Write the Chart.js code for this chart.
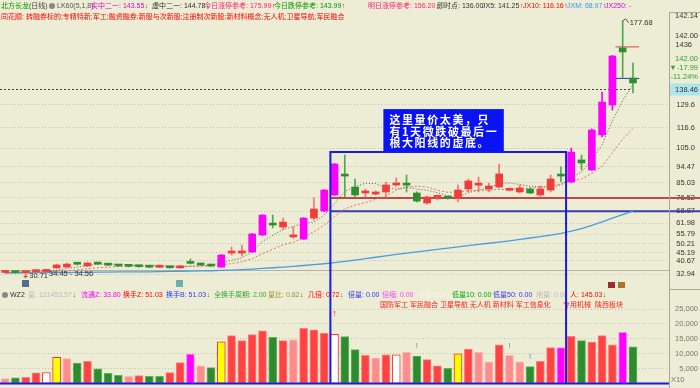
<!DOCTYPE html>
<html>
<head>
<meta charset="utf-8">
<script src="https://cdn.jsdelivr.net/npm/chart.js@4.4.0/dist/chart.umd.min.js"></script>
<style>
  html, body { margin: 0; padding: 0; background: #EDECD4; }
  #wrap { position: relative; width: 700px; height: 388px; overflow: hidden; }
  #priceChart { position: absolute; left: 0; top: 0; }
  #volChart { position: absolute; left: 0; top: 288px; }
</style>
</head>
<body>
<div id="wrap">
  <canvas id="priceChart" width="700" height="288"></canvas>
  <canvas id="volChart" width="700" height="100"></canvas>
</div>
<script>
// ---- daily candles ----
const opens  = [33.9, 34.2, 33.8, 34.4, 34.5, 36.5, 37.0, 38.7, 37.6, 38.8,
                38.2, 37.7, 37.5, 37.3, 37.0, 36.9, 36.7, 36.5, 39.4, 38.3,
                37.7, 37.0, 45.0, 45.0, 45.6, 55.3, 61.2, 59.9, 54.2, 53.0,
                65.0, 69.0, 78.2, 89.3, 82.7, 79.3, 78.7, 79.9, 83.9, 84.1,
                79.3, 73.6, 76.8, 76.6, 76.5, 81.6, 83.8, 81.6, 82.7, 80.9,
                79.9, 81.6, 78.2, 81.0, 89.2, 85.6, 98.2, 92.5, 112.5, 129.6,
                162.2, 145.0];
const highs  = [34.5, 34.6, 34.56, 35.0, 35.2, 38.6, 39.2, 39.2, 39.8, 39.2,
                38.6, 38.0, 37.8, 37.6, 37.3, 37.3, 37.0, 37.8, 41.6, 38.7,
                38.0, 44.2, 48.5, 49.6, 56.2, 67.0, 66.7, 65.0, 59.9, 65.3,
                76.5, 81.3, 96.2, 101.0, 87.3, 81.6, 80.5, 85.6, 87.9, 89.6,
                80.0, 77.5, 78.2, 77.0, 83.9, 87.3, 88.4, 85.0, 95.9, 81.6,
                83.9, 82.2, 83.3, 89.6, 94.2, 105.0, 101.0, 116.0, 137.0, 158.0,
                177.68, 153.6];
const lows   = [33.4, 33.6, 30.71, 33.9, 34.0, 36.2, 36.8, 38.2, 37.3, 38.3,
                37.8, 37.3, 37.1, 36.9, 36.6, 36.6, 36.3, 36.3, 38.8, 37.9,
                37.4, 36.8, 43.9, 43.3, 45.3, 55.0, 59.4, 58.2, 53.6, 52.7,
                63.9, 68.7, 77.9, 77.0, 77.0, 77.0, 78.2, 77.0, 83.3, 79.9,
                74.2, 73.0, 75.3, 75.8, 74.2, 79.9, 79.9, 79.9, 82.2, 80.5,
                79.3, 79.0, 77.0, 79.9, 85.6, 85.3, 92.5, 92.2, 111.3, 126.7,
                145.0, 136.5];
const closes = [34.3, 33.8, 34.45, 34.6, 34.9, 38.2, 38.7, 38.6, 39.3, 38.7,
                38.1, 37.6, 37.4, 37.2, 36.9, 37.0, 36.6, 37.6, 39.1, 38.2,
                37.6, 43.9, 45.6, 46.2, 55.9, 66.7, 61.0, 62.7, 54.4, 65.0,
                70.2, 81.0, 95.9, 89.0, 78.2, 80.5, 79.9, 83.9, 85.0, 83.8,
                74.7, 77.0, 77.1, 76.4, 81.0, 86.2, 84.0, 83.3, 90.2, 81.1,
                82.2, 79.3, 81.6, 87.3, 89.0, 102.7, 96.5, 115.3, 131.3, 157.6,
                159.9, 142.2];

// ---- moving averages (JX5, JX10, JXM) ----
const ma5  = [34.2, 34.1, 34.2, 34.3, 34.4, 35.2, 36.2, 37.0, 37.9, 38.7,
              38.7, 38.5, 38.2, 37.8, 37.4, 37.2, 37.0, 37.1, 37.4, 37.7,
              37.8, 39.3, 40.9, 42.3, 45.8, 51.7, 55.1, 58.5, 60.2, 62.0,
              62.7, 66.7, 73.3, 80.2, 82.9, 84.9, 84.7, 82.3, 81.5, 82.6,
              81.5, 80.9, 79.5, 77.8, 77.2, 79.5, 80.9, 82.2, 84.9, 85.0,
              84.2, 83.2, 82.9, 82.3, 83.9, 88.0, 91.4, 98.2, 107.0, 120.7,
              132.1, 141.25];
const ma10 = [34.0, 34.0, 34.1, 34.1, 34.2, 34.5, 34.9, 35.4, 36.0, 36.6,
              36.9, 37.3, 37.6, 37.9, 38.1, 38.0, 37.7, 37.6, 37.6, 37.6,
              37.5, 38.2, 39.0, 39.9, 41.8, 44.7, 47.2, 49.7, 51.2, 53.9,
              57.2, 60.9, 65.9, 70.2, 72.4, 73.8, 75.7, 77.8, 80.9, 82.7,
              83.2, 82.8, 80.9, 79.7, 79.9, 80.5, 80.9, 80.9, 81.4, 81.1,
              81.9, 82.1, 82.5, 83.6, 84.4, 86.1, 87.3, 90.5, 94.6, 102.3,
              110.1, 116.16];
const ma60 = [33.6, 33.7, 33.7, 33.8, 33.8, 33.9, 33.9, 34.0, 34.0, 34.1,
              34.1, 34.2, 34.2, 34.3, 34.3, 34.4, 34.5, 34.6, 34.7, 34.8,
              34.9, 35.1, 35.3, 35.5, 35.8, 36.2, 36.6, 37.0, 37.4, 37.9,
              38.4, 38.9, 39.5, 40.2, 41.0, 41.8, 42.6, 43.4, 44.2, 45.0,
              45.7, 46.4, 47.1, 47.8, 48.5, 49.2, 49.9, 50.6, 51.3, 52.0,
              52.8, 53.6, 54.4, 55.3, 56.3, 57.5, 59.0, 60.8, 62.8, 65.0,
              67.0, 68.97];

// ---- volume (x10) ----
const volumes = [1680, 1870, 2100, 3600, 3700, 8770, 8330, 6830, 7480, 4900,
                 3390, 2740, 2420, 2640, 2420, 2420, 3700, 7040, 9840, 5970,
                 5320, 14030, 16060, 14450, 16400, 17700, 15540, 14450, 14680, 18550,
                 18010, 16940, 16500, 15750, 11350, 9420, 8550, 9620, 9620, 10480,
                 9190, 8000, 5970, 5100, 9940, 11550, 10480, 7260, 12970, 9420,
                 7260, 5650, 7480, 12100, 12100, 15870, 14450, 13930, 16060, 12970,
                 17160, 12320];
// r red, g green, p pale red, m magenta, y yellow, w white
const volKinds = ['p','g','r','r','w','y','p','g','r','g',
                  'g','g','p','r','g','g','r','r','m','p',
                  'g','y','r','r','r','r','g','r','p','r',
                  'r','r','w','g','g','r','p','r','w','p',
                  'g','r','r','g','y','r','p','p','r','p',
                  'p','g','r','r','m','r','g','r','r','r',
                  'm','g'];
const volFlags = [40, 49, 51];   // "!" markers
const volArrow = 32;             // red up arrow

// ---- axes ----
const priceTickVals = [129.6, 116.6, 105.0, 94.47, 85.03, 76.52, 68.87, 61.98, 55.79, 50.21, 45.19, 40.67, 32.94];
const priceTickText = ['129.6', '116.6', '105.0', '94.47', '85.03', '76.52', '68.87', '61.98', '55.79', '50.21', '45.19', '40.67', '32.94'];
const volTickVals = [5000, 10000, 15000, 20000, 25000];
const sessions = opens.map((_, i) => 'D' + (i + 1)).concat(['E1', 'E2', 'E3']);

// ---- reference levels ----
const lastPrice  = 138.46;
const floorPrice = 35.2;
const boxHigh    = 76.52;
const boxLow     = 68.87;
const capPrice   = 162.8;
const midPrice   = 144.78;
const boxSpan    = [31.6, 54.5];   // blue frame, in sessions
const boxTop     = 102.7;
const noteSpan   = [36.75, 48.45];

const RED = '#F23B3B', GREEN = '#2F8F2F', MAG = '#FF00FF';
const FONT = '"Liberation Sans", "Noto Sans CJK SC", sans-serif';
const NUMFONT = '"Liberation Sans", Arial, sans-serif';

function candleKind(i) {
  const prev = i ? closes[i - 1] : opens[i];
  if (closes[i] > opens[i] && closes[i] / prev > 1.1) return 'mag';
  return closes[i] >= opens[i] ? 'up' : 'down';
}
const bodyColors = closes.map((c, i) => ({ mag: MAG, up: RED, down: GREEN })[candleKind(i)]);
const wickColors = closes.map((c, i) => ({ mag: MAG, up: '#FF6F6F', down: '#4FA84F' })[candleKind(i)]);

function put(ctx, s, x, y, color, size, align, font) {
  ctx.font = size + 'px ' + (font || FONT);
  ctx.fillStyle = color;
  ctx.textAlign = align || 'left';
  ctx.textBaseline = 'middle';
  ctx.fillText(s, x, y);
  return x + ctx.measureText(s).width;
}
function seg(ctx, s, x, y, color, arrow) {
  const end = put(ctx, s, x, y, color, 7);
  if (arrow) put(ctx, arrow, end + 0.5, y, arrow === '↑' ? '#FF0000' : '#009900', 7);
}
function hline(ctx, y, x1, x2, color, width, dash) {
  ctx.save();
  ctx.strokeStyle = color;
  ctx.lineWidth = width;
  ctx.setLineDash(dash || []);
  ctx.beginPath();
  ctx.moveTo(x1, y);
  ctx.lineTo(x2, y);
  ctx.stroke();
  ctx.restore();
}
function vline(ctx, x, y1, y2, color, width) {
  ctx.save();
  ctx.strokeStyle = color;
  ctx.lineWidth = width;
  ctx.beginPath();
  ctx.moveTo(x, y1);
  ctx.lineTo(x, y2);
  ctx.stroke();
  ctx.restore();
}

// ---- price panel overlays ----
const priceOverlay = {
  id: 'priceOverlay',
  beforeDatasetsDraw(chart) {
    const { ctx, chartArea: a, scales: { x, y } } = chart;
    const last = x.getPixelForValue(closes.length - 1);
    hline(ctx, Math.round(y.getPixelForValue(floorPrice)) + 0.5, a.left, a.right, '#B4B4A4', 1);
    hline(ctx, Math.round(y.getPixelForValue(lastPrice)) + 0.5, a.left, last, '#444', 1, [2, 2]);
    const bx = x.getPixelForValue(boxSpan[0]);
    hline(ctx, y.getPixelForValue(boxHigh), bx, 700, '#C04848', 2);
    hline(ctx, y.getPixelForValue(boxLow), bx, 700, '#3C3CB4', 2);
    const sx1 = x.getPixelForValue(closes.length - 2.7), sx2 = x.getPixelForValue(closes.length - 0.4);
    hline(ctx, y.getPixelForValue(capPrice), sx1, sx2, '#E04040', 1);
    hline(ctx, y.getPixelForValue(midPrice), sx1, sx2, '#2030E0', 1);
  },
  afterDraw(chart) {
    const { ctx, chartArea: a, scales: { x, y } } = chart;
    ctx.save();
    // header line 1
    const h1 = 6;
    seg(ctx, '北方长龙', 1, h1, '#009900');
    seg(ctx, '(日线)', 29, h1, '#444');
    ctx.fillStyle = '#888'; ctx.beginPath(); ctx.arc(52, h1, 3, 0, Math.PI * 2); ctx.fill();
    seg(ctx, 'LK60(5,1,8)', 57, h1, '#555');
    seg(ctx, '实中二一: 143.55', 91, h1, '#E000E0', '↓');
    seg(ctx, '虚中二一: 144.78', 152, h1, '#333', '↓');
    seg(ctx, '今日涨停参考: 175.99', 204, h1, '#FF2277', '↑');
    seg(ctx, '今日跌停参考: 143.99', 274, h1, '#009900', '↑');
    seg(ctx, '明日涨停参考: 156.20', 368, h1, '#FF2277', '↓');
    seg(ctx, '即时点: 136.00', 437, h1, '#333');
    seg(ctx, 'JX5: 141.25', 482, h1, '#333', '↑');
    seg(ctx, 'JX10: 116.16', 523, h1, '#FF0000', '↑');
    seg(ctx, 'JXM: 68.97', 567, h1, '#3399FF', '↑');
    seg(ctx, 'JX250: -', 605, h1, '#E000E0');
    // header line 2
    seg(ctx, '同花顺: 转融券标的;专精特新;军工;融资融券;新股与次新股;注册制次新股;新材料概念;无人机;卫星导航;军民融合', 1, 17, '#FF0000');

    // right panel frame
    vline(ctx, 669.5, 12, 288, '#A8A890', 1);
    hline(ctx, 12.5, 669, 700, '#A8A890', 1);
    put(ctx, '142.14', 698, 16, '#333', 7.5, 'right', NUMFONT);
    put(ctx, '142.00', 698, 36, '#333', 7.5, 'right', NUMFONT);
    put(ctx, '1436', 692, 45, '#333', 7.5, 'right', NUMFONT);
    put(ctx, '142.00', 698, 59, '#33A033', 7.5, 'right', NUMFONT);
    put(ctx, '▼-17.99', 698, 68, '#33A033', 7.5, 'right', NUMFONT);
    put(ctx, '-11.24%', 698, 77, '#33A033', 7.5, 'right', NUMFONT);
    const py = y.getPixelForValue(lastPrice);
    ctx.fillStyle = '#AEE6F0';
    ctx.fillRect(670, py - 6, 30, 12);
    put(ctx, '138.46', 698, py, '#333', 7.5, 'right', NUMFONT);

    // extremes
    const hx = x.getPixelForValue(closes.length - 2);
    const hy = y.getPixelForValue(highs[highs.length - 2]);
    ctx.strokeStyle = '#555'; ctx.lineWidth = 1;
    ctx.beginPath(); ctx.moveTo(hx, hy); ctx.lineTo(hx + 3, hy - 2); ctx.lineTo(hx + 6, hy + 2); ctx.stroke();
    put(ctx, '177.68', hx + 7, hy + 2, '#333', 7.5, 'left', NUMFONT);
    const lx = x.getPixelForValue(2), ly = y.getPixelForValue(lows[2]);
    const tail = put(ctx, '←30.71', lx - 4, ly - 2, '#333', 7.5, 'left', NUMFONT);
    put(ctx, '34.45 - 34.56', tail + 1, ly - 4, '#333', 7.5, 'left', NUMFONT);

    // small badges
    ctx.fillStyle = '#4E6E8E'; ctx.fillRect(22, 280, 7, 7);
    ctx.fillStyle = '#6AAEAE'; ctx.fillRect(176, 280, 7, 7);
    ctx.fillStyle = '#9A2E2E'; ctx.fillRect(608, 282, 7, 7);
    ctx.fillStyle = '#A8742E'; ctx.fillRect(618, 282, 7, 7);

    // blue frame
    const x1 = x.getPixelForValue(boxSpan[0]), x2 = x.getPixelForValue(boxSpan[1]);
    const ty = y.getPixelForValue(boxTop);
    ctx.strokeStyle = '#1A1AE6'; ctx.lineWidth = 2;
    ctx.beginPath();
    ctx.moveTo(x1, 288); ctx.lineTo(x1, ty); ctx.lineTo(x2, ty); ctx.lineTo(x2, 288);
    ctx.stroke();

    // note box
    const n1 = x.getPixelForValue(noteSpan[0]), n2 = x.getPixelForValue(noteSpan[1]);
    ctx.fillStyle = '#0A14F2';
    ctx.fillRect(n1, ty - 43, n2 - n1, 42);
    ctx.font = 'bold 11px "Noto Sans CJK SC", sans-serif';
    ctx.fillStyle = '#FFFFFF';
    ctx.textAlign = 'left';
    ctx.textBaseline = 'middle';
    ctx.letterSpacing = '1.6px';
    ['这里量价太美，只', '有1天微跌破最后一', '根大阳线的虚底。'].forEach((s, k) => {
      ctx.fillText(s, n1 + 6, ty - 32 + k * 11.5);
    });
    ctx.letterSpacing = '0px';
    ctx.restore();
  }
};

// ---- volume panel overlays ----
const volOverlay = {
  id: 'volOverlay',
  afterDraw(chart) {
    const { ctx, chartArea: a, scales: { x, y } } = chart;
    ctx.save();
    const h = 7;
    ctx.fillStyle = '#888'; ctx.beginPath(); ctx.arc(5, h, 3, 0, Math.PI * 2); ctx.fill();
    seg(ctx, 'WZ2', 10, h, '#333');
    seg(ctx, '量: 121453.57', 28, h, '#BBBBBB', '↓');
    seg(ctx, '流通Z: 33.80', 81, h, '#FF00FF');
    seg(ctx, '换手Z: 51.03', 123, h, '#FF0000');
    seg(ctx, '换手B: 51.03', 166, h, '#3333FF', '↓');
    seg(ctx, '全换手周期: 2.00', 214, h, '#33AA33');
    seg(ctx, '量比: 0.82', 268, h, '#999933', '↓');
    seg(ctx, '几倍: 0.72', 308, h, '#FF0000', '↓');
    seg(ctx, '倍量: 0.00', 348, h, '#3333FF');
    seg(ctx, '倍缩: 0.00', 382, h, '#FF44FF');
    seg(ctx, '平量: 0.00', 418, h, '#F6F6F0');
    seg(ctx, '低量10: 0.00', 452, h, '#00AA00');
    seg(ctx, '低量50: 0.00', 493, h, '#3333FF');
    seg(ctx, '地量: 0.00', 536, h, '#BBBBBB');
    seg(ctx, '人: 145.03', 570, h, '#FF0000', '↓');
    seg(ctx, '国防军工 军民融合 卫星导航 无人机 新材料 军工信息化', 380, 17, '#FF2222');
    seg(ctx, '专用机械  陕西板块', 563, 17, '#FF2222');

    volFlags.forEach(i => {
      put(ctx, '!', x.getPixelForValue(i), y.getPixelForValue(volumes[i]) - 10, '#2E9A9A', 8, 'center', NUMFONT);
    });
    put(ctx, '↑', x.getPixelForValue(volArrow), y.getPixelForValue(volumes[volArrow]) - 21, '#FF0000', 9, 'center', NUMFONT);

    vline(ctx, 669.5, 0, 100, '#A8A890', 1);
    hline(ctx, 1.5, 669, 700, '#A8A890', 1);
    put(ctx, 'X10', 671, a.bottom - 4, '#777', 7.5, 'left', NUMFONT);

    const x1 = x.getPixelForValue(boxSpan[0]), x2 = x.getPixelForValue(boxSpan[1]);
    vline(ctx, x1, 0, a.bottom, '#1A1AE6', 2);
    vline(ctx, x2, 0, a.bottom, '#1A1AE6', 2);
    hline(ctx, a.bottom, a.left, a.right, '#1A1AE6', 2);
    ctx.restore();
  }
};

const volFill = { r: '#FF4242', g: '#2E8B2E', p: '#FF8C8C', m: '#FF00FF', y: '#FFFF00', w: '#FFFFFF' };
const volEdge = { r: '#FF8080', g: '#62B262', p: '#FFB4B4', m: '#FF80FF', y: '#FF3030', w: '#FF3030' };

document.addEventListener('DOMContentLoaded', function () {

  new Chart(document.getElementById('priceChart'), {
    type: 'bar',
    data: {
      labels: sessions,
      datasets: [
        {
          type: 'line', data: ma60, borderColor: '#4A9AE8', borderWidth: 1.3,
          pointRadius: 0, order: 5
        },
        {
          type: 'line', data: ma10, borderColor: '#F06A6A', borderWidth: 1,
          borderDash: [2, 2], pointRadius: 0, order: 4
        },
        {
          type: 'line', data: ma5, borderColor: '#555555', borderWidth: 1,
          borderDash: [1, 2], pointRadius: 0, order: 3
        },
        {
          data: lows.map((l, i) => [l, highs[i]]), backgroundColor: wickColors,
          barThickness: 1, grouped: false, order: 2
        },
        {
          data: opens.map((o, i) => [o, closes[i]]), backgroundColor: bodyColors,
          barThickness: 7, minBarLength: 2, grouped: false, order: 1
        }
      ]
    },
    options: {
      responsive: false,
      animation: false,
      layout: { padding: { top: 20, bottom: 6, left: 0, right: 5 } },
      plugins: { legend: { display: false }, tooltip: { enabled: false } },
      scales: {
        x: { display: false, offset: true },
        y: {
          position: 'right',
          min: 28.46,
          max: 178.17,
          afterFit: s => { s.width = 26; },
          afterBuildTicks: s => { s.ticks = priceTickVals.map(v => ({ value: v })); },
          ticks: {
            callback: (v, i) => priceTickText[i],
            crossAlign: 'far',
            padding: 0,
            color: '#333',
            font: { family: NUMFONT, size: 7.5 }
          },
          grid: { color: '#C2C2AA', drawTicks: false },
          border: { display: false, dash: [1, 2] }
        }
      }
    },
    plugins: [priceOverlay]
  });

  new Chart(document.getElementById('volChart'), {
    type: 'bar',
    data: {
      labels: sessions,
      datasets: [{
        data: volumes,
        backgroundColor: volKinds.map(k => volFill[k]),
        borderColor: volKinds.map(k => volEdge[k]),
        borderWidth: 1,
        borderSkipped: false,
        barThickness: 8
      }]
    },
    options: {
      responsive: false,
      animation: false,
      layout: { padding: { top: 10, bottom: 1, left: 0, right: 2 } },
      plugins: { legend: { display: false }, tooltip: { enabled: false } },
      scales: {
        x: { display: false, offset: true },
        y: {
          position: 'right',
          min: 0,
          max: 28710,
          afterFit: s => { s.width = 29; },
          afterBuildTicks: s => { s.ticks = volTickVals.map(v => ({ value: v })); },
          ticks: {
            crossAlign: 'far',
            padding: 0,
            color: '#777',
            font: { family: NUMFONT, size: 7.5 }
          },
          grid: { color: '#C2C2AA', drawTicks: false },
          border: { display: false, dash: [1, 2] }
        }
      }
    },
    plugins: [volOverlay]
  });
});
</script>
</body>
</html>
